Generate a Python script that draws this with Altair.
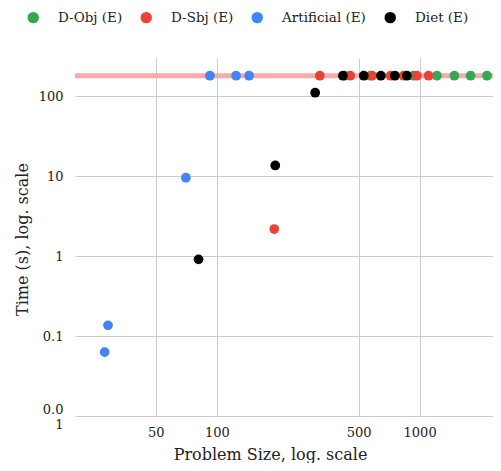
import altair as alt
import pandas as pd

# ---- data ----
series_names = ["D-Obj (E)", "D-Sbj (E)", "Artificial (E)", "Diet (E)"]
series_colors = ["#34A853", "#EA4335", "#4285F4", "#000000"]

dobj_size = [428, 572, 932, 1217, 1483, 1784, 2147]
dobj_time = [180, 180, 180, 180, 180, 180, 180]

dsbj_size = [192, 322, 455, 583, 719, 834, 969, 1107]
dsbj_time = [2.18, 180, 180, 180, 180, 180, 180, 180]

art_size = [28.0, 29.1, 70.4, 92.5, 124.5, 144.3]
art_time = [0.063, 0.136, 9.55, 180, 180, 180]

diet_size = [81.3, 194.2, 305.6, 418.6, 530.5, 643.9, 754.9, 865.4]
diet_time = [0.91, 13.6, 110.3, 180, 180, 180, 180, 180]

timeout = [180]

x_ticks = [50, 100, 500, 1000]
y_ticks = [0.01, 0.1, 1, 10, 100]

# ---- build table ----
rows = []
for name, xs, ys in zip(series_names,
                        [dobj_size, dsbj_size, art_size, diet_size],
                        [dobj_time, dsbj_time, art_time, diet_time]):
    for xv, yv in zip(xs, ys):
        rows.append({"series": name, "size": xv, "time": yv})
df = pd.DataFrame(rows)
df_rule = pd.DataFrame({"time": timeout})

FONT = "DejaVu Serif"

xscale = alt.Scale(type="log", domain=[20, 2300], nice=False)
yscale = alt.Scale(type="log", domain=[0.01, 300], nice=False)

yaxis = alt.Axis(
    values=y_ticks, format="~g", title="Time (s), log. scale",
    labelExpr="datum.value < 0.02 ? ['0.0', '1'] : datum.label",
    labelOffset={"condition": {"test": "datum.value < 0.02", "value": -7}, "value": 0},
    labelLineHeight=15, labelFontSize=13, labelPadding=12, labelColor="#222",
    ticks=False, tickSize=0, domain=False, grid=True, gridColor="#cccccc",
    titleFontSize=16, titleFontWeight="normal", titleColor="#222",
    titleAngle=-90, titleX=-48, titleY=181, titleAlign="center",
    titleBaseline="alphabetic",
)
xaxis = alt.Axis(
    values=x_ticks, format="~g", title="Problem Size, log. scale",
    labelFontSize=13, labelPadding=10, labelColor="#222",
    ticks=False, tickSize=0, domain=False, grid=True, gridColor="#cccccc",
    titleFontSize=16, titleFontWeight="normal", titleColor="#222",
    titleX=195, titleY=43.5, titleAlign="center", titleBaseline="alphabetic",
)

rule = alt.Chart(df_rule).mark_rule(color="#f9abab", strokeWidth=5).encode(
    y=alt.Y("time:Q", scale=yscale, axis=yaxis)
)

points = alt.Chart(df).mark_circle(size=95, opacity=1).encode(
    x=alt.X("size:Q", scale=xscale, axis=xaxis),
    y=alt.Y("time:Q", scale=yscale, axis=yaxis),
    color=alt.Color(
        "series:N",
        scale=alt.Scale(domain=series_names, range=series_colors),
        legend=alt.Legend(
            orient="none", legendX=-48.5, legendY=-47.5, direction="horizontal",
            title=None, symbolType="circle", symbolSize=130,
            labelFontSize=13.5, labelOffset=18, columnPadding=17, padding=0,
            labelColor="#222", symbolStrokeWidth=0,
        ),
    ),
    order=alt.Order("idx:Q"),
).transform_window(idx="row_number()")

chart = alt.layer(rule, points).properties(
    width=418, height=358,
    padding={"left": 67, "top": 50, "right": 0, "bottom": 47},
    autosize=alt.AutoSizeParams(type="none"),
).configure(font=FONT).configure_view(stroke=None)

chart.save("out.html", embed_options={"renderer": "svg", "actions": False})
